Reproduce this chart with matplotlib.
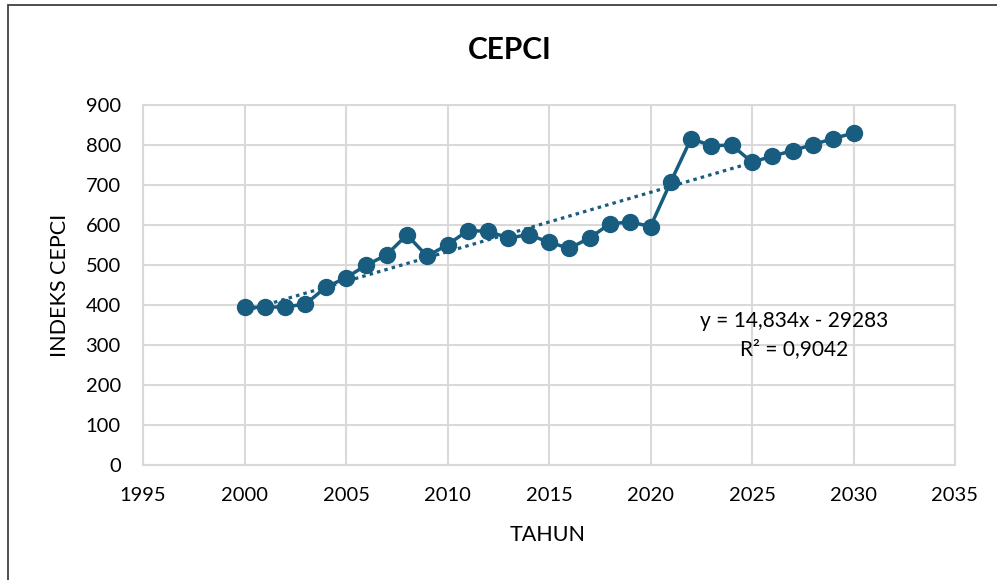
import matplotlib
matplotlib.use("Agg")
import matplotlib.pyplot as plt
from matplotlib.patches import Rectangle

# ── Data ─────────────────────────────────────────────────────
years = [2000, 2001, 2002, 2003, 2004, 2005, 2006, 2007, 2008, 2009, 2010,
         2011, 2012, 2013, 2014, 2015, 2016, 2017, 2018, 2019, 2020,
         2021, 2022, 2023, 2024, 2025, 2026, 2027, 2028, 2029, 2030]
cepci = [394.1, 394.3, 395.6, 402.0, 444.2, 468.2, 499.6, 525.4, 575.4, 521.9, 550.8,
         585.7, 584.6, 567.3, 576.1, 556.8, 541.7, 567.5, 603.1, 607.5, 596.2,
         708.0, 816.0, 798.0, 800.0, 757.0, 772.0, 786.0, 801.0, 816.0, 830.0]

trend_slope = 14.834
trend_intercept = -29283
trend_range = [2000, 2025]
trend_label = "y = 14,834x - 29283"
r2_label = "R² = 0,9042"

x_ticks = list(range(1995, 2036, 5))
y_ticks = list(range(0, 901, 100))

# ── Style ────────────────────────────────────────────────────
plt.rcParams["font.family"] = ["Lato", "DejaVu Sans"]
COLOR = "#185d80"
GRID = "#d9d9d9"

fig = plt.figure(figsize=(9.97, 5.8), dpi=100)
ax = fig.add_axes([143 / 997, 1 - 465 / 580, 812 / 997, 360 / 580])

# chart border (cropped on right and bottom like the source)
fig.patches.append(Rectangle((8 / 997, -0.1), 1.2, 1 - 5 / 580 + 0.1,
                             transform=fig.transFigure, fill=False,
                             edgecolor="#404040", linewidth=1.3))

# trendline
tx = trend_range
ty = [trend_slope * x + trend_intercept for x in tx]
ax.plot(tx, ty, color=COLOR, linewidth=2.3, linestyle=(0, (1.1, 1.3)),
        zorder=3)

# series
ax.plot(years, cepci, color=COLOR, linewidth=2.5, marker="o",
        markersize=11.5, zorder=4)

ax.set_xlim(1995, 2035)
ax.set_ylim(0, 900)
ax.set_xticks(x_ticks)
ax.set_yticks(y_ticks)
ax.tick_params(length=0, labelsize=14.5, colors="black")
ax.tick_params(axis="x", pad=16)
ax.tick_params(axis="y", pad=16)
ax.grid(True, color=GRID, linewidth=1.5)
ax.set_axisbelow(True)
for s in ax.spines.values():
    s.set_color(GRID)
    s.set_linewidth(1.5)

fig.text(510 / 997, 1 - 50 / 580, "CEPCI", ha="center", va="center",
         fontsize=21.5, fontweight="bold")
fig.text(548 / 997, 1 - 535 / 580, "TAHUN", ha="center", va="center",
         fontsize=15.5)
fig.text(60 / 997, 1 - 285 / 580, "INDEKS CEPCI", ha="center", va="center",
         rotation=90, fontsize=15.5)

fig.text(794 / 997, 1 - 321 / 580, trend_label, ha="center", va="center",
         fontsize=15)
fig.text(794 / 997, 1 - 349 / 580, r2_label, ha="center", va="center",
         fontsize=15)

fig.savefig("out.png", dpi=100, facecolor="white")
